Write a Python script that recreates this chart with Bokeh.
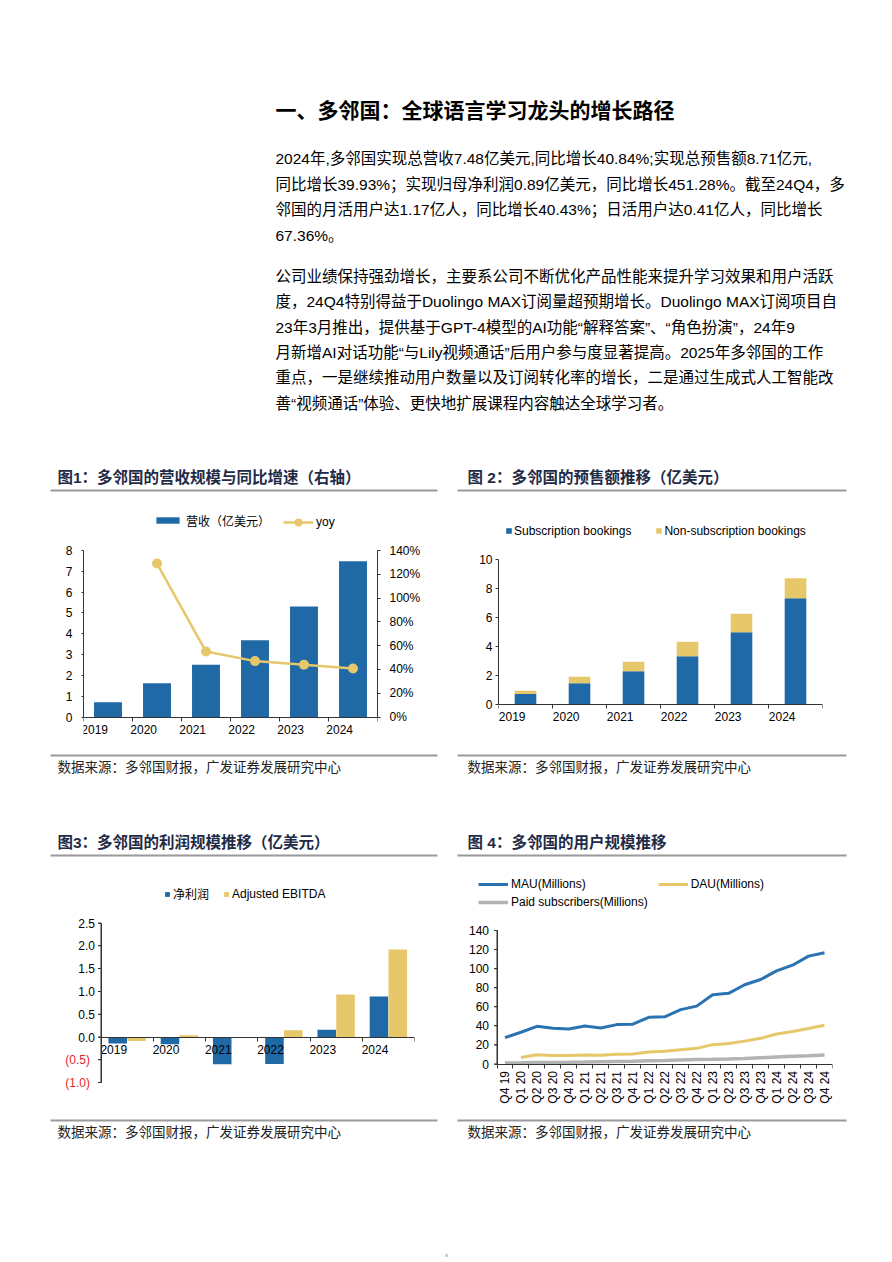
import math
from bokeh.plotting import figure
from bokeh.layouts import column, row
from bokeh.models import (Range1d, LinearAxis, FixedTicker, CustomJSTickFormatter,
                          NumeralTickFormatter, Legend, LegendItem, ColumnDataSource)
from bokeh.core.properties import value
from bokeh.embed import file_html
from bokeh.resources import INLINE

NAN = float("nan")

# ---------------- data ----------------
years = ["2019", "2020", "2021", "2022", "2023", "2024"]
revenue = [0.71, 1.62, 2.51, 3.69, 5.31, 7.48]
revenue_yoy = [NAN, 1.29, 0.55, 0.47, 0.44, 0.408]
sub_bookings = [0.69, 1.43, 2.26, 3.30, 4.97, 7.32]
nonsub_bookings = [0.23, 0.46, 0.67, 1.00, 1.27, 1.39]
net_income = [-0.14, -0.16, -0.60, -0.59, 0.16, 0.89]
adj_ebitda = [-0.09, 0.04, -0.01, 0.15, 0.93, 1.92]
quarters = ["Q4 19", "Q1 20", "Q2 20", "Q3 20", "Q4 20", "Q1 21", "Q2 21", "Q3 21",
            "Q4 21", "Q1 22", "Q2 22", "Q3 22", "Q4 22", "Q1 23", "Q2 23", "Q3 23",
            "Q4 23", "Q1 24", "Q2 24", "Q3 24", "Q4 24"]
mau = [27.7, 33.3, 39.5, 37.5, 36.8, 39.9, 37.8, 41.3, 41.7, 49.0, 49.5, 57.0,
       60.7, 72.6, 74.1, 83.1, 88.6, 97.6, 103.6, 113.1, 116.7]
dau = [NAN, 6.9, 9.6, 9.0, 8.8, 9.4, 9.1, 10.1, 10.5, 12.6, 13.3, 14.9,
       16.4, 20.3, 21.4, 24.0, 26.9, 31.4, 34.1, 37.2, 40.6]
paid_subs = [1.0, 1.2, 1.5, 1.7, 1.8, 2.0, 2.3, 2.6, 2.9, 3.3, 3.6, 4.2,
             4.8, 5.0, 5.3, 5.8, 6.6, 7.4, 8.0, 8.6, 9.5]

rev_ticks = [0, 1, 2, 3, 4, 5, 6, 7, 8]
yoy_ticks = [0, 0.2, 0.4, 0.6, 0.8, 1.0, 1.2, 1.4]
book_ticks = [0, 2, 4, 6, 8, 10]
profit_ticks = [-1.0, -0.5, 0.0, 0.5, 1.0, 1.5, 2.0, 2.5]
user_ticks = [0, 20, 40, 60, 80, 100, 120, 140]

page_title = "一、多邻国：全球语言学习龙头的增长路径"
para1 = ["2024年,多邻国实现总营收7.48亿美元,同比增长40.84%;实现总预售额8.71亿元,",
         "同比增长39.93%；实现归母净利润0.89亿美元，同比增长451.28%。截至24Q4，多",
         "邻国的月活用户达1.17亿人，同比增长40.43%；日活用户达0.41亿人，同比增长",
         "67.36%。"]
para2 = ["公司业绩保持强劲增长，主要系公司不断优化产品性能来提升学习效果和用户活跃",
         "度，24Q4特别得益于Duolingo MAX订阅量超预期增长。Duolingo MAX订阅项目自",
         "23年3月推出，提供基于GPT-4模型的AI功能“解释答案”、“角色扮演”，24年9",
         "月新增AI对话功能“与Lily视频通话”后用户参与度显著提高。2025年多邻国的工作",
         "重点，一是继续推动用户数量以及订阅转化率的增长，二是通过生成式人工智能改",
         "善“视频通话”体验、更快地扩展课程内容触达全球学习者。"]
chart_titles = ["图1：多邻国的营收规模与同比增速（右轴）", "图 2：多邻国的预售额推移（亿美元）",
                "图3：多邻国的利润规模推移（亿美元）", "图 4：多邻国的用户规模推移"]
source_text = "数据来源：多邻国财报，广发证券发展研究中心"

# ---------------- style ----------------
FONT = "Liberation Sans, Noto Sans CJK SC"
BLUE = "#1F69A6"
MAU_BLUE = "#2A73B2"
GOLD = "#E6C76A"
GRAY = "#B3B3B3"
NAVY = "#1F2B46"
RULE = "#9A9A9A"
AX = "#333333"
RED = "#E3262B"
PAD = 5  # top/bottom border of every chart figure


def strip(y0, y1):
    p = figure(width=892, height=y1 - y0, x_range=Range1d(0, 892), y_range=Range1d(y1, y0),
               x_axis_type=None, y_axis_type=None, output_backend="svg",
               toolbar_location=None, min_border=0)
    p.outline_line_color = None
    return p


def add_text(p, xs, ys, texts, size, color="#000", bold=False):
    p.text(x=xs, y=ys, text=texts, text_font=value(FONT), text_font_size=value(size),
           text_font_style="bold" if bold else "normal", text_color=color,
           text_baseline="middle", text_align="left")


def add_rules(p, y):
    p.segment(x0=[50, 457], y0=[y, y], x1=[437, 846], y1=[y, y],
              line_color=RULE, line_width=2)


def span_range(v0, p0, v1, p1, lo_px, hi_px, screen_y=True):
    """Range placing v0 at pixel p0 and v1 at p1 in a frame spanning lo_px..hi_px."""
    if screen_y:  # pixel y grows downward: lo_px = frame top, hi_px = frame bottom
        pxu = (p0 - p1) / (v1 - v0)
        return Range1d(v0 - (hi_px - p0) / pxu, v1 + (p1 - lo_px) / pxu)
    pxu = (p1 - p0) / (v1 - v0)  # x: lo_px = frame left, hi_px = frame right
    return Range1d(v0 - (p0 - lo_px) / pxu, v1 + (hi_px - p1) / pxu)


def chart_fig(x_range, y_range, height, l, r):
    p = figure(width=446, height=height, x_range=x_range, y_range=y_range,
               x_axis_type=None, y_axis_type=None, output_backend="svg",
               toolbar_location=None, min_border_left=int(round(l)),
               min_border_right=int(round(r)),
               min_border_top=PAD, min_border_bottom=PAD)
    p.outline_line_color = None
    return p


def style_axis(ax, standoff, tick_out=3):
    ax.axis_line_color = AX
    ax.major_tick_line_color = AX
    ax.major_tick_out = tick_out
    ax.major_tick_in = 0
    ax.minor_tick_line_color = None
    ax.major_label_standoff = standoff
    ax.major_label_text_font = FONT
    ax.major_label_text_font_size = "12px"
    ax.major_label_text_color = "#000"


def cat_axis(p, labels, standoff, orientation=0.0):
    n = len(labels)
    ax = LinearAxis(
        ticker=FixedTicker(ticks=[i + 0.5 for i in range(n)], minor_ticks=list(range(n + 1))),
        formatter=CustomJSTickFormatter(
            args=dict(labels=labels),
            code="const i = Math.floor(tick); return (i >= 0 && i < labels.length) ? labels[i] : '';"),
        bounds=(0, n), fixed_location=0)
    style_axis(ax, standoff, 0)
    ax.major_tick_line_color = None
    ax.minor_tick_line_color = AX
    ax.minor_tick_out = 4
    ax.minor_tick_in = 0
    ax.major_label_orientation = orientation
    p.add_layout(ax, "below")
    return ax


def inner_y_rule(p, ticks, tick_px=3):
    """Axis line + outward ticks at x=0 (drawn as 1px boxes) for a y axis inside the frame."""
    xr, yr = p.x_range, p.y_range
    frame_w = p.width - p.min_border_left - p.min_border_right
    frame_h = p.height - p.min_border_top - p.min_border_bottom
    ux = (xr.end - xr.start) / frame_w
    uy = (yr.end - yr.start) / frame_h
    p.quad(left=[-0.5 * ux], right=[0.5 * ux], bottom=[min(ticks)], top=[max(ticks)],
           fill_color=AX, line_color=None)
    p.quad(left=[-tick_px * ux] * len(ticks), right=[0] * len(ticks),
           bottom=[t - 0.5 * uy for t in ticks], top=[t + 0.5 * uy for t in ticks],
           fill_color=AX, line_color=None)


def legend(p, items, loc, gw, gh, spacing, standoff=3):
    lg = Legend(items=items, location=loc, orientation="horizontal", glyph_width=gw,
                glyph_height=gh, label_height=14, label_standoff=standoff, spacing=spacing,
                padding=0, margin=0, border_line_color=None, background_fill_alpha=0,
                label_text_font=FONT, label_text_font_size="12px", label_text_color="#000")
    p.add_layout(lg, "center")


# ---------------- top strip (page y 0..500) ----------------
sA = strip(0, 500)
add_text(sA, [275], [110], [page_title], "21px", "#000", bold=True)
add_text(sA, [275] * len(para1), [158 + 25.6 * i for i in range(len(para1))], para1, "15.5px")
add_text(sA, [275] * len(para2), [276 + 25.3 * i for i in range(len(para2))], para2, "15.5px")
add_text(sA, [57, 467], [477, 477], chart_titles[:2], "15.5px", NAVY, bold=True)
add_rules(sA, 490)

ROW1_TOP, ROW1_BOT = 500, 745
ROW2_TOP, ROW2_BOT = 865, 1112
f1_top, f1_bot = ROW1_TOP + PAD, ROW1_BOT - PAD
f2_top, f2_bot = ROW2_TOP + PAD, ROW2_BOT - PAD

# ---------------- chart 1 ----------------
xc = [i + 0.5 for i in range(len(years))]
p1 = chart_fig(Range1d(0, len(years)), span_range(0, 716.5, 8, 550, f1_top, f1_bot),
               ROW1_BOT - ROW1_TOP, 83, 69)
p1.extra_y_ranges = {"yoy": span_range(0, 716.5, 1.4, 550, f1_top, f1_bot)}
src1 = ColumnDataSource(dict(x=xc, rev=revenue, yoy=revenue_yoy))
bar1 = p1.vbar(x="x", top="rev", width=0.57, source=src1, fill_color=BLUE, line_color=None)
ln1 = p1.line(x="x", y="yoy", source=src1, y_range_name="yoy", line_color=GOLD, line_width=2.5)
dt1 = p1.scatter(x="x", y="yoy", source=src1, y_range_name="yoy", size=10,
                 fill_color=GOLD, line_color=None)
ay1 = LinearAxis(ticker=FixedTicker(ticks=rev_ticks), bounds=(0, 8))
style_axis(ay1, 9, 2)
p1.add_layout(ay1, "left")
ay1r = LinearAxis(y_range_name="yoy", ticker=FixedTicker(ticks=yoy_ticks),
                  formatter=NumeralTickFormatter(format="0%"), bounds=(0, 1.4))
style_axis(ay1r, 9, 3)
p1.add_layout(ay1r, "right")
cat_axis(p1, years, 8)
legend(p1, [LegendItem(label="营收（亿美元）", renderers=[bar1])], (70, f1_bot - 528.7), 29, 8, 0, 4)
legend(p1, [LegendItem(label="yoy", renderers=[ln1, dt1])], (200, f1_bot - 531.7), 30, 20, 0, 3)

# ---------------- chart 2 ----------------
p2 = chart_fig(Range1d(0, len(years)), span_range(0, 703.5, 10, 559, f1_top, f1_bot),
               ROW1_BOT - ROW1_TOP, 52, 70)
src2 = ColumnDataSource(dict(x=xc, sub=sub_bookings,
                             tot=[a + b for a, b in zip(sub_bookings, nonsub_bookings)]))
b2a = p2.vbar(x="x", top="sub", bottom=0, width=0.4, source=src2, fill_color=BLUE, line_color=None)
b2b = p2.vbar(x="x", top="tot", bottom="sub", width=0.4, source=src2, fill_color=GOLD, line_color=None)
ay2 = LinearAxis(ticker=FixedTicker(ticks=book_ticks), bounds=(0, 10))
style_axis(ay2, 3, 3)
p2.add_layout(ay2, "left")
cat_axis(p2, years, 8)
legend(p2, [LegendItem(label="Subscription bookings", renderers=[b2a]),
            LegendItem(label="Non-subscription bookings", renderers=[b2b])],
       (7, f1_bot - 537.7), 7, 7, 24, 2)

# ---------------- middle strip (page y 745..865) ----------------
sB = strip(745, 865)
add_rules(sB, 755)
add_text(sB, [57, 467], [767, 767], [source_text] * 2, "13.5px", "#222")
add_text(sB, [57, 467], [842, 842], chart_titles[2:], "15.5px", NAVY, bold=True)
add_rules(sB, 855)

# ---------------- chart 3 ----------------
C3_LEFT, C3_RIGHT = 40, 414  # frame starts left of the axis so the tick labels are inside it
p3 = chart_fig(span_range(0, 100.5, len(years), C3_RIGHT, C3_LEFT, C3_RIGHT, screen_y=False),
               span_range(0.0, 1036.5, 2.5, 922.5, f2_top, f2_bot),
               ROW2_BOT - ROW2_TOP, C3_LEFT, 446 - C3_RIGHT)
src3 = ColumnDataSource(dict(xn=[x - 0.18 for x in xc], xe=[x + 0.18 for x in xc],
                             ni=net_income, eb=adj_ebitda))
b3a = p3.vbar(x="xn", top="ni", bottom=0, width=0.355, source=src3, fill_color=BLUE, line_color=None)
b3b = p3.vbar(x="xe", top="eb", bottom=0, width=0.355, source=src3, fill_color=GOLD, line_color=None)
ay3 = LinearAxis(ticker=FixedTicker(ticks=profit_ticks), bounds=(-1.0, 2.5), fixed_location=0,
                 formatter=CustomJSTickFormatter(code="return tick < 0 ? '' : tick.toFixed(1);"))
style_axis(ay3, 3, 3)
p3.add_layout(ay3, "left")
ay3n = LinearAxis(ticker=FixedTicker(ticks=[t for t in profit_ticks if t < 0]), fixed_location=0,
                  formatter=CustomJSTickFormatter(code="return '(' + Math.abs(tick).toFixed(1) + ')';"))
style_axis(ay3n, 11, 0)
ay3n.axis_line_color = None
ay3n.major_tick_line_color = None
ay3n.major_label_text_color = RED
p3.add_layout(ay3n, "left")
inner_y_rule(p3, profit_ticks)
cat_axis(p3, years, 8)
legend(p3, [LegendItem(label="净利润", renderers=[b3a]),
            LegendItem(label="Adjusted EBITDA", renderers=[b3b])],
       (164 - C3_LEFT, f2_bot - 902), 6, 6, 14, 3)

# ---------------- chart 4 ----------------
C4_LEFT, C4_RIGHT = 452, 832
p4 = chart_fig(span_range(0, 496.5, len(quarters), C4_RIGHT, C4_LEFT, C4_RIGHT, screen_y=False),
               span_range(0, 1063.5, 140, 930, f2_top, f2_bot),
               ROW2_BOT - ROW2_TOP, C4_LEFT - 446, 892 - C4_RIGHT)
xq = [i + 0.5 for i in range(len(quarters))]
src4 = ColumnDataSource(dict(x=xq, mau=mau, dau=dau, paid=paid_subs))
l4c = p4.line(x="x", y="paid", source=src4, line_color=GRAY, line_width=3.5)
l4b = p4.line(x="x", y="dau", source=src4, line_color=GOLD, line_width=3)
l4a = p4.line(x="x", y="mau", source=src4, line_color=MAU_BLUE, line_width=3)
ay4 = LinearAxis(ticker=FixedTicker(ticks=user_ticks), bounds=(0, 140), fixed_location=0)
style_axis(ay4, 5, 3)
p4.add_layout(ay4, "left")
inner_y_rule(p4, user_ticks)
cat_axis(p4, quarters, 3, math.pi / 2)
legend(p4, [LegendItem(label="MAU(Millions)", renderers=[l4a]),
            LegendItem(label="DAU(Millions)", renderers=[l4b])],
       (478 - C4_LEFT, f2_bot - 891), 30, 14, 72, 3)
legend(p4, [LegendItem(label="Paid subscribers(Millions)", renderers=[l4c])],
       (478 - C4_LEFT, f2_bot - 909), 30, 14, 0, 3)

# ---------------- bottom strip (page y 1112..1262) ----------------
sC = strip(1112, 1262)
add_rules(sC, 1120)
add_text(sC, [57, 467], [1132, 1132], [source_text] * 2, "13.5px", "#222")
sC.scatter(x=[446], y=[1255], marker="square", size=3, fill_color="#D0D0D0", line_color=None)

layout = column(sA, row(p1, p2), sB, row(p3, p4), sC)
open("out.html", "w").write(file_html(layout, INLINE))
